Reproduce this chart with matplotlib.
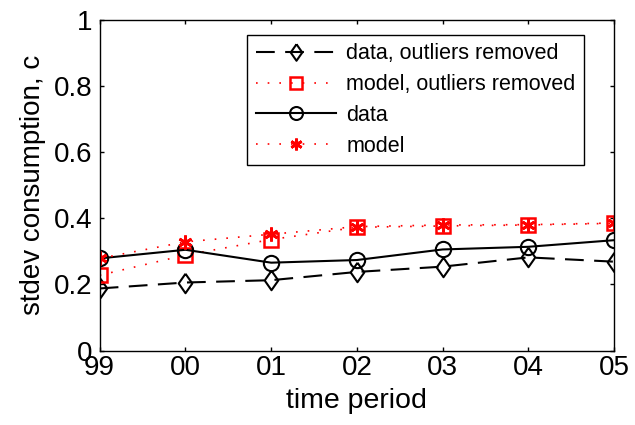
import matplotlib
matplotlib.use('Agg')
import matplotlib.pyplot as plt
import numpy as np

periods = ['99', '00', '01', '02', '03', '04', '05']
data_removed = [0.188, 0.206, 0.213, 0.238, 0.254, 0.282, 0.269]
model_removed = [0.228, 0.289, 0.336, 0.373, 0.377, 0.380, 0.385]
data_all = [0.279, 0.305, 0.266, 0.274, 0.306, 0.314, 0.334]
model_all = [0.279, 0.329, 0.352, 0.375, 0.380, 0.381, 0.386]

plt.rcParams['font.family'] = ['Liberation Sans', 'DejaVu Sans']

# matlab-style diamond, a bit taller than wide
diamond = [(0, 1), (0.7, 0), (0, -1), (-0.7, 0), (0, 1)]

fig = plt.figure(figsize=(6.35, 4.25), dpi=100)
ax = fig.add_axes([0.157, 0.175, 0.81, 0.778])
x = np.arange(len(periods))

ax.plot(x, data_removed, color='k', linestyle=(0, (9, 5)), lw=1.5, marker=diamond,
        markersize=14, markerfacecolor='none', markeredgewidth=1.5,
        label='data, outliers removed')
ax.plot(x, model_removed, color='r', linestyle=(0, (1, 6)), lw=1.2, marker='s',
        markersize=10, markerfacecolor='none', markeredgewidth=1.8,
        label='model, outliers removed')
ax.plot(x, data_all, color='k', linestyle='-', lw=1.5, marker='o',
        markersize=11, markerfacecolor='none', markeredgewidth=1.5,
        label='data')
ax.plot(x, model_all, color='r', linestyle=(0, (1, 6)), lw=1.2, marker=(6, 2, 0),
        markersize=10, markeredgewidth=2, label='model')

ax.set_xlim(0, len(periods) - 1)
ax.set_ylim(0, 1)
ax.set_xticks(x)
ax.set_xticklabels(periods)
ax.set_yticks([0, 0.2, 0.4, 0.6, 0.8, 1])
ax.set_yticklabels(['0', '0.2', '0.4', '0.6', '0.8', '1'])
ax.tick_params(direction='in', top=True, right=True, labelsize=20, length=3, width=1)
ax.tick_params(axis='x', pad=3)
ax.tick_params(axis='y', pad=5)
for s in ax.spines.values():
    s.set_linewidth(1)
ax.set_xlabel('time period', fontsize=20.5, labelpad=5)
ax.set_ylabel('stdev consumption, c', fontsize=20, labelpad=6)

leg = ax.legend(loc='upper right', bbox_to_anchor=(0.942, 0.955), fontsize=15.5,
                fancybox=False, edgecolor='k', framealpha=1, handlelength=3.7,
                handletextpad=0.5, labelspacing=0.45, borderpad=0.4,
                borderaxespad=0, markerscale=0.85)
leg.get_frame().set_linewidth(1)

fig.savefig('out.png', dpi=100)
